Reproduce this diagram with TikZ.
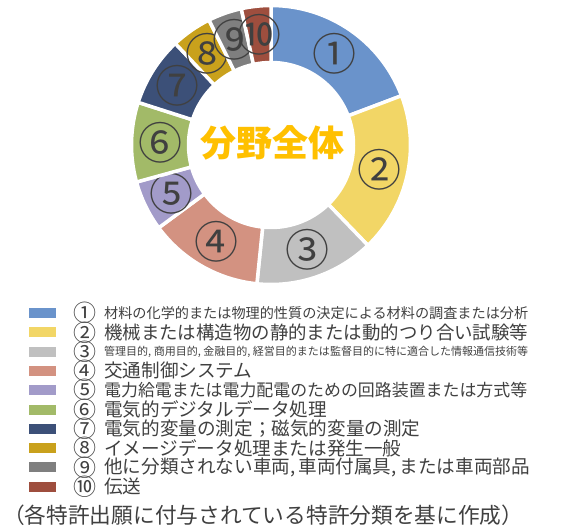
\documentclass[tikz,border=0pt]{standalone}
\usepackage{fontspec}
\usepackage{graphicx}
\setmainfont{Noto Sans CJK JP}
\definecolor{c1}{HTML}{6A93CB}
\definecolor{c2}{HTML}{F2D666}
\definecolor{c3}{HTML}{C0C0C0}
\definecolor{c4}{HTML}{D39281}
\definecolor{c5}{HTML}{A29BC9}
\definecolor{c6}{HTML}{A2BA68}
\definecolor{c7}{HTML}{3C5078}
\definecolor{c8}{HTML}{C9A11C}
\definecolor{c9}{HTML}{7F7F7F}
\definecolor{c10}{HTML}{9E4E3E}
\definecolor{tg}{HTML}{404040}
\definecolor{ttl}{HTML}{FFC000}
\begin{document}
\begin{tikzpicture}[x=1pt,y=-1pt,
  seglab/.style={text=tg, inner sep=0pt, font=\fontsize{44}{44}\selectfont, text height=33.4pt, text depth=0pt},
  swatch/.style={minimum width=27pt, minimum height=10pt, inner sep=0pt},
  lnum/.style={text=tg, inner sep=0pt, font=\fontsize{23}{23}\selectfont, text height=17.5pt, text depth=0pt},
  ltxt/.style={text=tg, anchor=west, inner sep=0pt, font=\fontsize{18.6}{18.6}\selectfont}]
\useasboundingbox (0,0) rectangle (562,530);
\begin{scope}[shift={(271,145)}]
\foreach \a/\b/\col/\lab [count=\i] in {-90/-20.7/c1/①, -20.7/46/c2/②, 46/95.8/c3/③, 95.8/143.6/c4/④, 143.6/164.6/c5/⑤, 164.6/197.8/c6/⑥, 197.8/226.7/c7/⑦, 226.7/243.6/c8/⑧, 243.6/257.7/c9/⑨, 257.7/270/c10/⑩}{
  \fill[\col, draw=white, line width=3.5pt, line join=miter]
    (\a:139.5) arc[start angle=\a, end angle=\b, radius=139.5]
    -- (\b:82.5) arc[start angle=\b, end angle=\a, radius=82.5] -- cycle;
  \node[seglab] (s\i) at ({(\a+\b)/2}:111) {\lab};
}
\end{scope}
\node[text=ttl, inner sep=0pt, font=\bfseries\fontsize{36}{36}\selectfont] (title) at (272,143) {分野全体};

\node[swatch, fill=c1] (k1) at (42.5,313) {};
\node[lnum] (n1) at (85,313) {①};
\node[ltxt] (t1) at (104,313) {\resizebox{424pt}{!}{材料の化学的または物理的性質の決定による材料の調査または分析}};

\node[swatch, fill=c2] (k2) at (42.5,332.3) {};
\node[lnum] (n2) at (85,332.3) {②};
\node[ltxt] (t2) at (104,332.3) {\resizebox{424pt}{!}{機械または構造物の静的または動的つり合い試験等}};

\node[swatch, fill=c3] (k3) at (42.5,351.6) {};
\node[lnum] (n3) at (85,351.6) {③};
\node[ltxt] (t3) at (104,351.6) {\resizebox{424pt}{!}{管理目的, 商用目的, 金融目的, 経営目的または監督目的に特に適合した情報通信技術等}};

\node[swatch, fill=c4] (k4) at (42.5,370.9) {};
\node[lnum] (n4) at (85,370.9) {④};
\node[ltxt] (t4) at (104,370.9) {交通制御システム};

\node[swatch, fill=c5] (k5) at (42.5,390.2) {};
\node[lnum] (n5) at (85,390.2) {⑤};
\node[ltxt] (t5) at (104,390.2) {\resizebox{423pt}{!}{電力給電または電力配電のための回路装置または方式等}};

\node[swatch, fill=c6] (k6) at (42.5,409.5) {};
\node[lnum] (n6) at (85,409.5) {⑥};
\node[ltxt] (t6) at (104,409.5) {電気的デジタルデータ処理};

\node[swatch, fill=c7] (k7) at (42.5,428.8) {};
\node[lnum] (n7) at (85,428.8) {⑦};
\node[ltxt] (t7) at (104,428.8) {電気的変量の測定；磁気的変量の測定};

\node[swatch, fill=c8] (k8) at (42.5,448.1) {};
\node[lnum] (n8) at (85,448.1) {⑧};
\node[ltxt] (t8) at (104,448.1) {イメージデータ処理または発生一般};

\node[swatch, fill=c9] (k9) at (42.5,467.4) {};
\node[lnum] (n9) at (85,467.4) {⑨};
\node[ltxt] (t9) at (104,467.4) {他に分類されない車両,\,車両付属具,\,または車両部品};

\node[swatch, fill=c10] (k10) at (42.5,486.7) {};
\node[lnum] (n10) at (85,486.7) {⑩};
\node[ltxt] (t10) at (104,486.7) {伝送};

\node[text=tg, anchor=west, inner sep=0pt, font=\fontsize{21.7}{21.7}\selectfont] (src) at (3,515) {（各特許出願に付与されている特許分類を基に作成）};
\end{tikzpicture}
\end{document}
